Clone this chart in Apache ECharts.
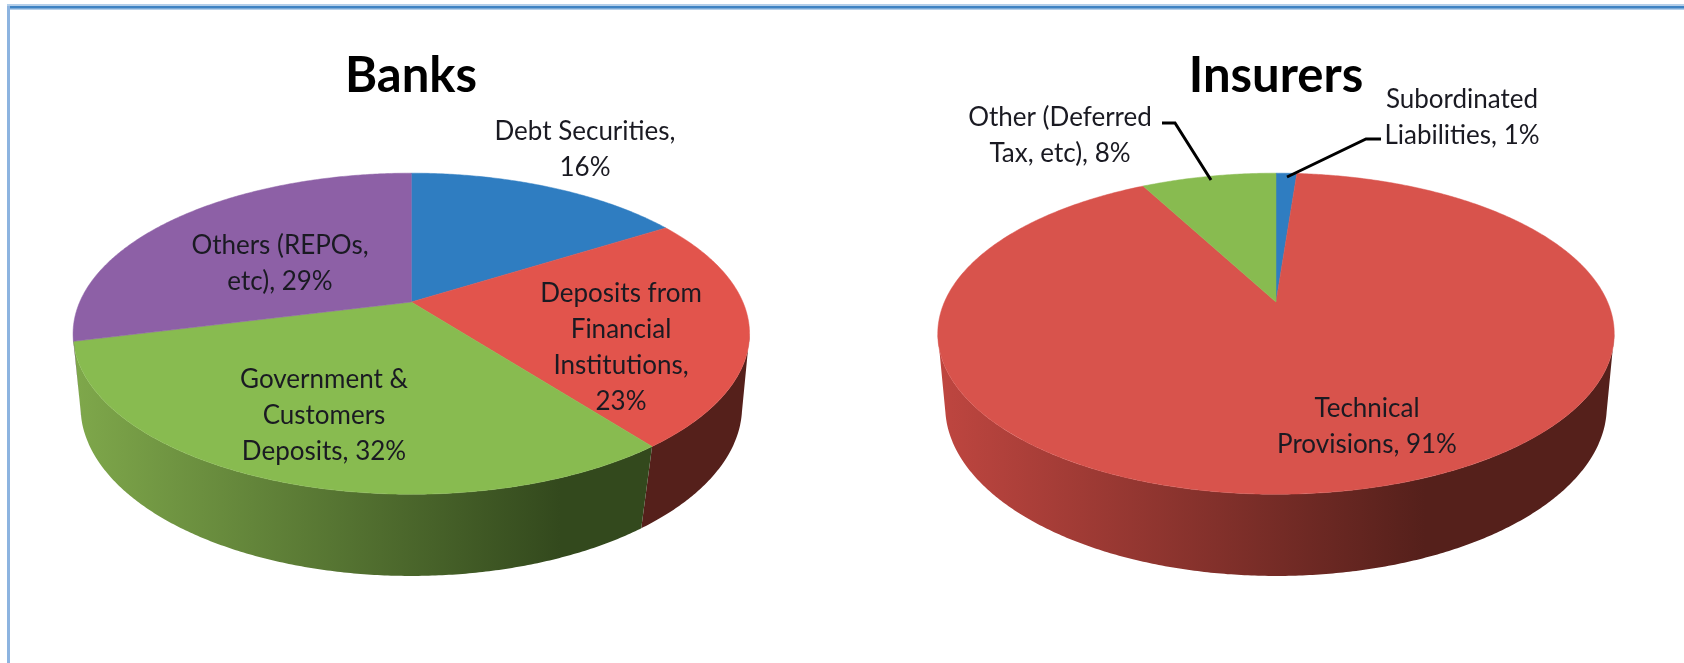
<!DOCTYPE html>
<html>
<head>
<meta charset="utf-8">
<style>html,body{margin:0;padding:0;background:#fff}#chart{width:1684px;height:663px}</style>
<script src="https://cdn.jsdelivr.net/npm/echarts@6/dist/echarts.min.js"></script>
</head>
<body>
<div id="chart"></div>
<script>
var bankNames = ["Debt Securities,", "Deposits from\nFinancial\nInstitutions,", "Government &\nCustomers\nDeposits,", "Others (REPOs,\netc),"];
var bankValues = [16.1, 23.4, 31.6, 28.9];
var insurerNames = ["Subordinated\nLiabilities,", "Technical\nProvisions,", "Other (Deferred\nTax, etc),"];
var insurerValues = [1.2, 91.0, 7.8];

// top face and side wall colours, one per slice
var blue = {top: "#2f7dc1", light: "#2f7dc1", dark: "#17405f"};
var red = {top: "#e2544c", light: "#bf4640", dark: "#55201b"};
var red2 = {top: "#d8534c", light: "#bf4640", dark: "#55201b"};
var green = {top: "#88bb50", light: "#7fa84b", dark: "#33491d"};
var purple = {top: "#8d60a6", light: "#76508c", dark: "#3c2847"};
var bankColors = [blue, red, green, purple];
var insurerColors = [blue, red2, green];

// perspective of the tilted disc: top rim and bottom rim
var topRim = {k: 0.1973, sx: 1, sy: 1, drop: 0};
var bottomRim = {k: 0.165, sx: 0.984, sy: 1.069, drop: 0.495};

function project(deg, rim) {
    var a = deg * Math.PI / 180;
    var w = 1 + rim.k * Math.cos(a);
    return [rim.sx * Math.sin(a) / w, rim.sy * Math.cos(a) / w - rim.drop];
}

function make_series(idx, values, colors) {
    var sum = 0;
    var slices = values.map(function (v, i) {
        var item = [sum, sum + v, i];
        sum += v;
        return item;
    });
    // the wall is visible between the two widest points of the ellipse
    var wallFrom = Math.acos(-topRim.k) * 180 / Math.PI;
    var wallTo = 360 - wallFrom;
    return {
        type: "custom",
        coordinateSystem: "cartesian2d",
        xAxisIndex: idx,
        yAxisIndex: idx,
        clip: false,
        silent: true,
        encode: {x: [], y: []},
        data: slices,
        renderItem: function (params, api) {
            var from = api.value(0) * 3.6;
            var to = api.value(1) * 3.6;
            var c = colors[api.value(2)];
            var children = [];
            var a1 = Math.max(from, wallFrom);
            var a2 = Math.min(to, wallTo);
            var left = api.coord([-1.02, 0])[0];
            var right = api.coord([1.02, 0])[0];
            if (a2 > a1) {
                var wall = [];
                for (var a = a1; a < a2; a += 0.5) wall.push(api.coord(project(a, topRim)));
                wall.push(api.coord(project(a2, topRim)));
                for (a = a2; a > a1; a -= 0.5) wall.push(api.coord(project(a, bottomRim)));
                wall.push(api.coord(project(a1, bottomRim)));
                children.push({
                    type: "polygon",
                    shape: {points: wall},
                    style: {
                        fill: new echarts.graphic.LinearGradient(left, 0, right, 0, [
                            {offset: 0, color: c.light},
                            {offset: 0.72, color: c.dark},
                            {offset: 1, color: c.dark}
                        ], true)
                    }
                });
            }
            var face = [api.coord([0, 0])];
            for (a = from; a < to; a += 0.5) face.push(api.coord(project(a, topRim)));
            face.push(api.coord(project(to, topRim)));
            children.push({
                type: "polygon",
                shape: {points: face},
                style: {fill: c.top, stroke: c.top, lineWidth: 0.5}
            });
            return {type: "group", children: children};
        }
    };
}

function hidden_axis(idx, min, max) {
    return {type: "value", gridIndex: idx, min: min, max: max, show: false};
}

function text_el(x, y, str, size, weight) {
    return {
        type: "text",
        x: x,
        y: y,
        z: 100,
        silent: true,
        style: {
            text: str,
            x: 0,
            y: 0,
            align: "center",
            verticalAlign: "middle",
            fill: weight ? "#000" : "#1a1a22",
            font: (weight || "normal") + " " + size + "px Lato",
            lineHeight: 36
        }
    };
}

function leader(points) {
    return {
        type: "polyline",
        z: 100,
        silent: true,
        shape: {points: points},
        style: {stroke: "#000", lineWidth: 3, fill: null}
    };
}

function frame_rect(x, y, w, h, color) {
    return {type: "rect", z: 100, silent: true, shape: {x: x, y: y, width: w, height: h}, style: {fill: color}};
}

function pct(v) {
    return Math.round(v) + "%";
}

var labelSize = 26;
var elements = [
    frame_rect(7, 4, 1677, 6, "#b4cfea"),
    frame_rect(7, 6, 1677, 2.5, "#3e83c3"),
    frame_rect(7, 6, 3, 657, "#8db4e0"),
    text_el(411, 76, "Banks", 49, "bold"),
    text_el(1276, 76, "Insurers", 49, "bold"),
    text_el(585, 150, bankNames[0] + "\n" + pct(bankValues[0]), labelSize),
    text_el(621, 348, bankNames[1] + "\n" + pct(bankValues[1]), labelSize),
    text_el(324, 416, bankNames[2] + " " + pct(bankValues[2]), labelSize),
    text_el(280, 264, bankNames[3] + " " + pct(bankValues[3]), labelSize),
    text_el(1462, 118, insurerNames[0] + " " + pct(insurerValues[0]), labelSize),
    text_el(1367, 427, insurerNames[1] + " " + pct(insurerValues[1]), labelSize),
    text_el(1060, 136, insurerNames[2] + " " + pct(insurerValues[2]), labelSize),
    leader([[1162, 123], [1175, 123], [1211, 180]]),
    leader([[1381, 139], [1366, 139], [1287, 177]])
];

var option = {
    animation: false,
    backgroundColor: "#fff",
    grid: [
        {left: 13.4, top: 132.3, width: 795.8, height: 462.9},
        {left: 878.1, top: 132.3, width: 795.8, height: 462.9}
    ],
    xAxis: [hidden_axis(0, -1.2, 1.2), hidden_axis(1, -1.2, 1.2)],
    yAxis: [hidden_axis(0, -1.9, 1.1), hidden_axis(1, -1.9, 1.1)],
    series: [
        make_series(0, bankValues, bankColors),
        make_series(1, insurerValues, insurerColors)
    ],
    graphic: {elements: elements}
};

var myChart = echarts.init(document.querySelector("#chart"));
myChart.setOption(option, true);
</script>
</body>
</html>
